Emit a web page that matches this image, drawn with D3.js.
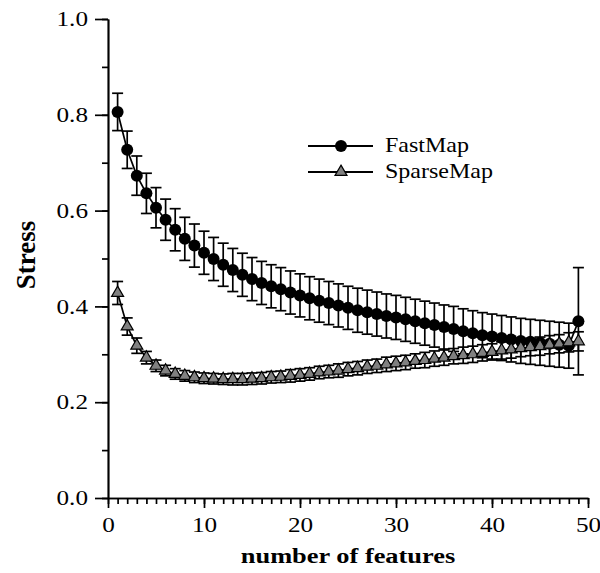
<!DOCTYPE html>
<html>
<head>
<meta charset="utf-8">
<script src="https://cdn.jsdelivr.net/npm/d3@7"></script>
<style>
  body { margin: 0; background: #fff; }
  text { font-family: "Liberation Serif", "Times New Roman", serif; fill: #000; }
</style>
</head>
<body>
<div id="chart"></div>
<script>
// number of features (x)
const features = d3.range(1, 50);

// stress values
const fastMap = [
  0.806, 0.727, 0.673, 0.636, 0.606, 0.581, 0.560, 0.541, 0.527, 0.512,
  0.499, 0.487, 0.476, 0.466, 0.457, 0.449, 0.442, 0.436, 0.429, 0.423,
  0.417, 0.412, 0.407, 0.402, 0.397, 0.392, 0.388, 0.384, 0.380, 0.377,
  0.373, 0.369, 0.365, 0.361, 0.357, 0.353, 0.348, 0.344, 0.340, 0.337,
  0.334, 0.331, 0.328, 0.326, 0.324, 0.322, 0.320, 0.318, 0.369,
];
const fastMapErr = [
  0.039, 0.039, 0.041, 0.042, 0.042, 0.043, 0.044, 0.045, 0.045, 0.045,
  0.045, 0.045, 0.045, 0.045, 0.045, 0.045, 0.045, 0.045, 0.045, 0.045,
  0.045, 0.045, 0.045, 0.045, 0.045, 0.046, 0.046, 0.046, 0.046, 0.046,
  0.046, 0.046, 0.046, 0.046, 0.046, 0.047, 0.047, 0.047, 0.047, 0.047,
  0.047, 0.047, 0.047, 0.047, 0.047, 0.047, 0.047, 0.047, 0.112,
];
const sparseMap = [
  0.428, 0.358, 0.318, 0.293, 0.276, 0.266, 0.259, 0.255, 0.252, 0.250,
  0.249, 0.248, 0.248, 0.248, 0.249, 0.250, 0.252, 0.253, 0.255, 0.257,
  0.259, 0.262, 0.264, 0.266, 0.269, 0.271, 0.274, 0.276, 0.279, 0.281,
  0.283, 0.286, 0.288, 0.291, 0.293, 0.296, 0.298, 0.300, 0.303, 0.305,
  0.308, 0.310, 0.313, 0.315, 0.317, 0.320, 0.322, 0.325, 0.327,
];
const sparseMapErr = [
  0.024, 0.018, 0.016, 0.013, 0.012, 0.011, 0.011, 0.011, 0.011, 0.011,
  0.011, 0.011, 0.012, 0.012, 0.012, 0.012, 0.012, 0.012, 0.013, 0.013,
  0.013, 0.013, 0.013, 0.014, 0.014, 0.014, 0.014, 0.014, 0.015, 0.015,
  0.015, 0.015, 0.016, 0.016, 0.016, 0.016, 0.017, 0.017, 0.017, 0.017,
  0.018, 0.018, 0.018, 0.018, 0.019, 0.019, 0.019, 0.020, 0.020,
];

const xTicks = [0, 10, 20, 30, 40, 50];
const yTicks = [0.0, 0.2, 0.4, 0.6, 0.8, 1.0];
const seriesNames = ["FastMap", "SparseMap"];

const width = 600,
  height = 573;
const stretch = 1.2; // the original figure's type is a bit wide

const x = d3.scaleLinear().domain([0, 50]).range([108, 588]);
const y = d3.scaleLinear().domain([0, 1]).range([498, 19]);

const svg = d3
  .select("#chart")
  .append("svg")
  .attr("width", width)
  .attr("height", height);

// wide text helper: positions a group, then stretches the text horizontally
function wideText(parent, tx, ty, str, size, anchor, bold) {
  const t = parent
    .append("g")
    .attr("transform", `translate(${tx},${ty})`)
    .append("text")
    .attr("transform", `scale(${stretch},1)`)
    .attr("text-anchor", anchor)
    .style("font-size", size + "px")
    .text(str);
  if (bold) t.style("font-weight", "bold");
  return t;
}

// minor ticks
svg
  .append("g")
  .attr("transform", `translate(0,${y(0)})`)
  .call(d3.axisBottom(x).tickValues(d3.range(0, 51)).tickSize(6).tickSizeOuter(0).tickFormat(""));
svg
  .append("g")
  .attr("transform", `translate(${x(0)},0)`)
  .call(d3.axisLeft(y).tickValues(d3.range(0, 11).map((d) => d / 10)).tickSize(6).tickSizeOuter(0).tickFormat(""));

// major ticks + labels
const xAxis = svg
  .append("g")
  .attr("transform", `translate(0,${y(0)})`)
  .call(d3.axisBottom(x).tickValues(xTicks).tickSize(10).tickSizeOuter(0).tickPadding(9).tickFormat(d3.format("d")));

const yAxis = svg
  .append("g")
  .attr("transform", `translate(${x(0)},0)`)
  .call(d3.axisLeft(y).tickValues(yTicks).tickSize(13).tickSizeOuter(0).tickFormat(d3.format(".1f")));

svg.selectAll(".domain, .tick line").attr("stroke", "#000").attr("stroke-width", 1.7);
svg
  .selectAll(".tick text")
  .attr("fill", "#000")
  .style("font-size", "21px")
  .style("font-family", "'Liberation Serif', serif");
xAxis.selectAll(".tick text").attr("transform", `scale(${stretch},1)`);
yAxis
  .selectAll(".tick text")
  .attr("x", 0)
  .attr("transform", `translate(-20,0) scale(${stretch},1)`);

// axis titles
wideText(svg, (x(0) + x(50)) / 2, 563, "number of features", 22, "middle", true);

svg
  .append("text")
  .attr("transform", `translate(35,255) rotate(-90)`)
  .attr("text-anchor", "middle")
  .style("font-size", "27px")
  .style("font-weight", "bold")
  .text("Stress");

const line = d3
  .line()
  .x((d) => x(d[0]))
  .y((d) => y(d[1]));

function drawSeries(vals, errs, kind) {
  const data = features.map((f, i) => [f, vals[i], errs[i]]);
  const g = svg.append("g").attr("class", kind);

  // error bars
  const eb = g.selectAll(".err").data(data).enter().append("g").attr("class", "err");
  eb.append("line")
    .attr("x1", (d) => x(d[0]))
    .attr("x2", (d) => x(d[0]))
    .attr("y1", (d) => y(d[1] + d[2]))
    .attr("y2", (d) => y(d[1] - d[2]));
  eb.append("line")
    .attr("x1", (d) => x(d[0]) - 5.5)
    .attr("x2", (d) => x(d[0]) + 5.5)
    .attr("y1", (d) => y(d[1] + d[2]))
    .attr("y2", (d) => y(d[1] + d[2]));
  eb.append("line")
    .attr("x1", (d) => x(d[0]) - 5.5)
    .attr("x2", (d) => x(d[0]) + 5.5)
    .attr("y1", (d) => y(d[1] - d[2]))
    .attr("y2", (d) => y(d[1] - d[2]));
  eb.selectAll("line").attr("stroke", "#000").attr("stroke-width", 1.7);

  g.append("path")
    .datum(data)
    .attr("fill", "none")
    .attr("stroke", "#000")
    .attr("stroke-width", 1.7)
    .attr("d", line);

  if (kind === "circle") {
    g.selectAll(".pt")
      .data(data)
      .enter()
      .append("circle")
      .attr("class", "pt")
      .attr("cx", (d) => x(d[0]))
      .attr("cy", (d) => y(d[1]))
      .attr("r", 6)
      .attr("fill", "#000");
  } else {
    const tri = d3.symbol().type(d3.symbolTriangle).size(62);
    g.selectAll(".pt")
      .data(data)
      .enter()
      .append("path")
      .attr("class", "pt")
      .attr("transform", (d) => `translate(${x(d[0])},${y(d[1])})`)
      .attr("d", tri)
      .attr("fill", "#808080")
      .attr("stroke", "#000")
      .attr("stroke-width", 1.2);
  }
}

drawSeries(fastMap, fastMapErr, "circle");
drawSeries(sparseMap, sparseMapErr, "triangle");

// legend
const legend = svg.append("g");
seriesNames.forEach((name, i) => {
  const ly = 146 + i * 26;
  legend
    .append("line")
    .attr("x1", 308)
    .attr("x2", 373)
    .attr("y1", ly)
    .attr("y2", ly)
    .attr("stroke", "#000")
    .attr("stroke-width", 1.8);
  if (i === 0) {
    legend.append("circle").attr("cx", 341).attr("cy", ly).attr("r", 6).attr("fill", "#000");
  } else {
    legend
      .append("path")
      .attr("transform", `translate(341,${ly})`)
      .attr("d", d3.symbol().type(d3.symbolTriangle).size(62))
      .attr("fill", "#808080")
      .attr("stroke", "#000")
      .attr("stroke-width", 1.2);
  }
  wideText(legend, 385, ly + 6, name, 20, "start", false);
});
</script>
</body>
</html>
